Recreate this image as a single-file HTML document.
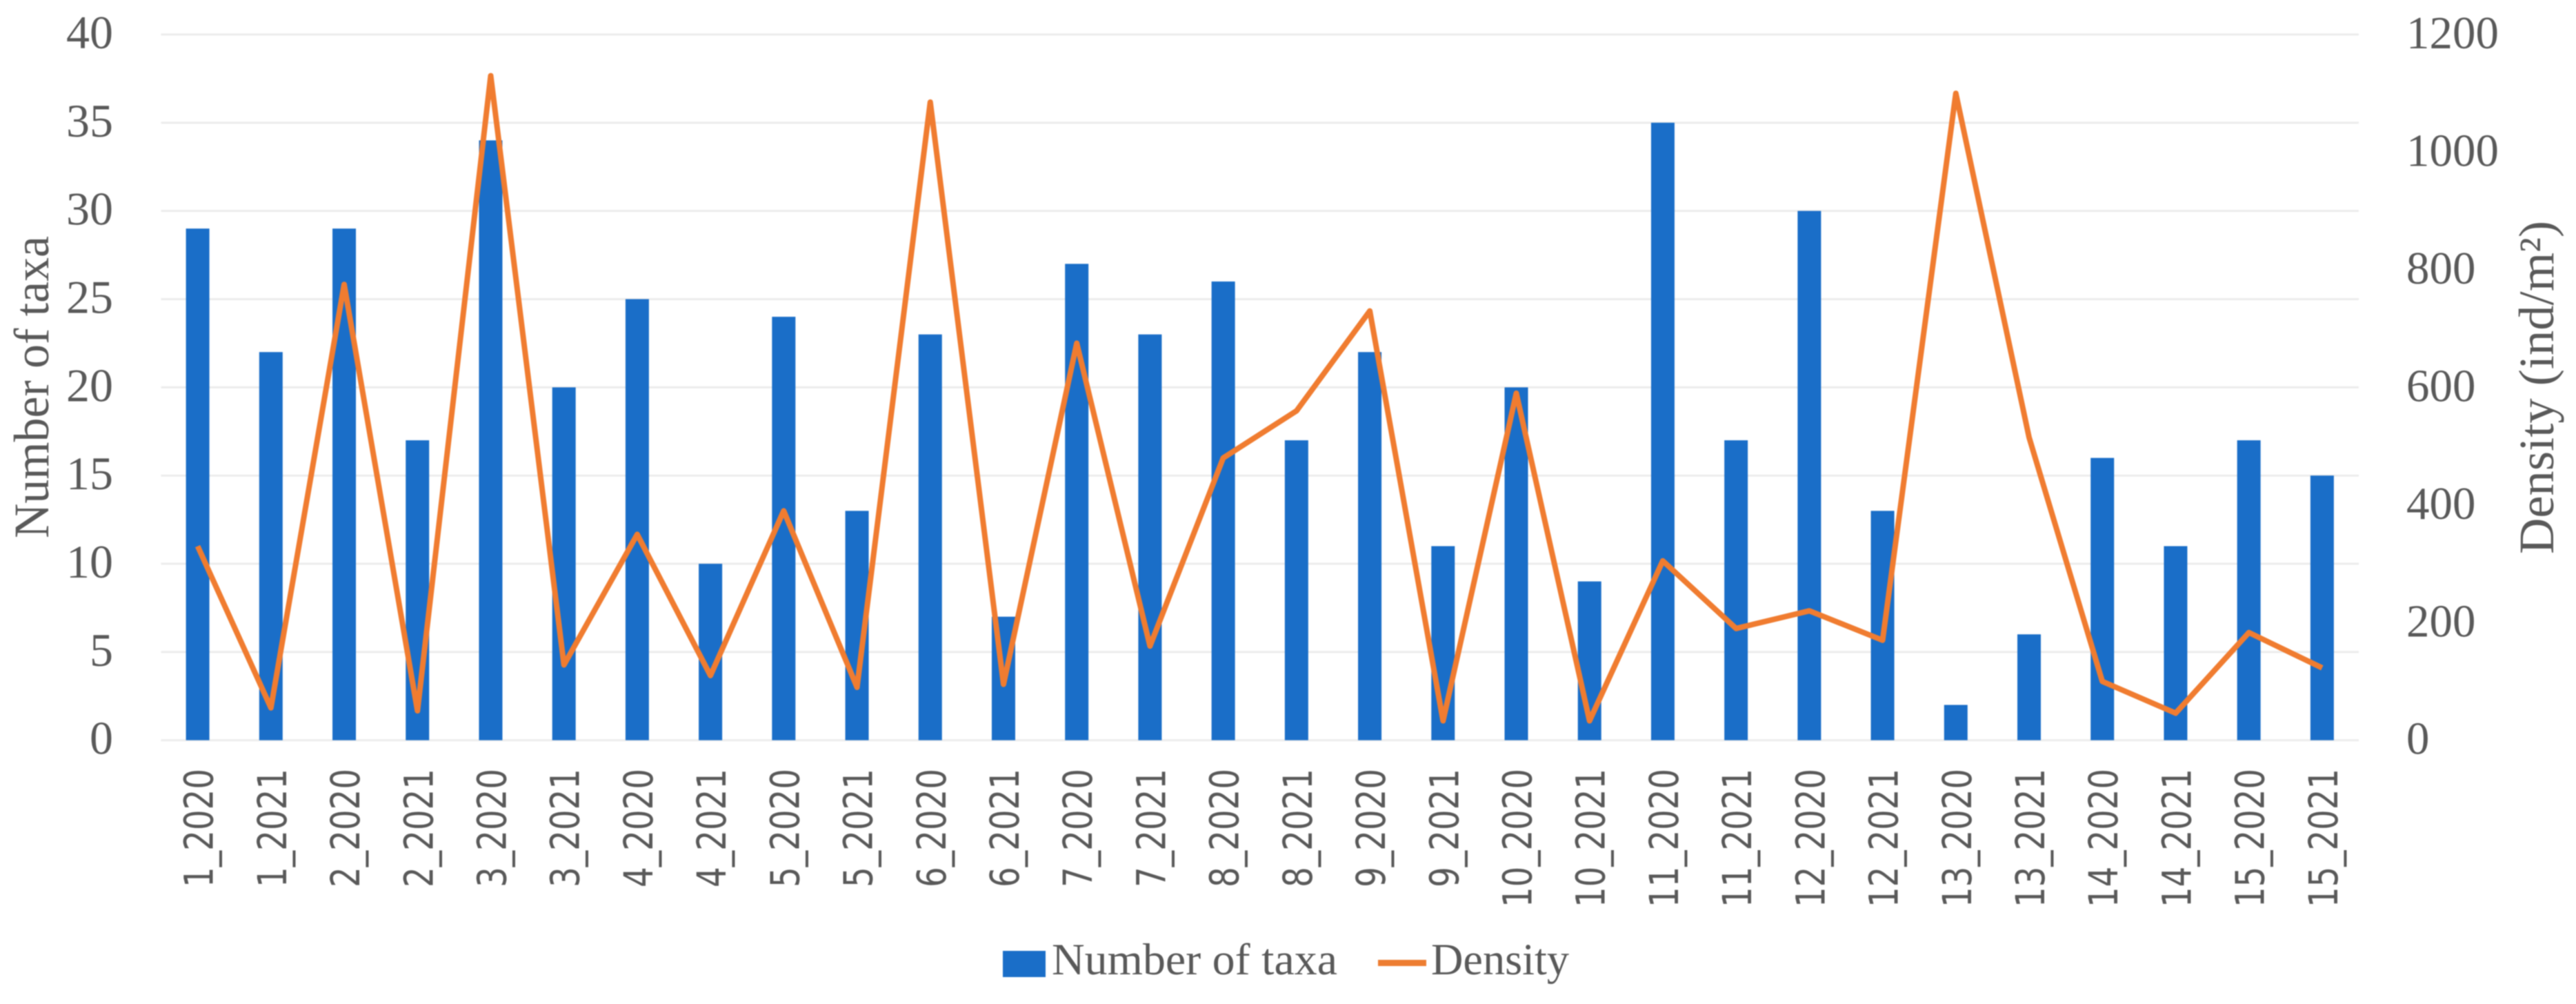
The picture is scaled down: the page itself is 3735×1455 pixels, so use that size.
<!DOCTYPE html>
<html lang="en">
<head>
<meta charset="utf-8">
<title>Number of taxa and density by site and year</title>
<style>
  html, body { margin: 0; padding: 0; background: #fff; }
  body { width: 3735px; height: 1455px; overflow: hidden; }
  svg { display: block; filter: blur(0.9px); }
  .serif { font-family: "Liberation Serif", serif; fill: #595959; }
  .sans { font-family: "DejaVu Sans", "Liberation Sans", sans-serif; fill: #595959; }
</style>
</head>
<body>
<svg id="chart" xmlns="http://www.w3.org/2000/svg" width="3735" height="1455" viewBox="0 0 3735 1455">
  <rect x="0" y="0" width="3735" height="1455" fill="#ffffff"/>
  <g id="grid"></g>
  <g id="bars"></g>
  <polyline id="density-line" fill="none" stroke="#f07c30" stroke-width="8" stroke-linejoin="round" stroke-linecap="butt"/>
  <g id="left-ticks"></g>
  <g id="right-ticks"></g>
  <g id="x-ticks"></g>
  <text class="serif" font-size="72" text-anchor="middle" textLength="438" lengthAdjust="spacingAndGlyphs" transform="translate(70,561) rotate(-90)">Number of taxa</text>
  <text class="serif" font-size="72" text-anchor="middle" textLength="483" lengthAdjust="spacingAndGlyphs" transform="translate(3702,561.5) rotate(-90)">Density (ind/m²)</text>
  <g>
    <rect x="1454" y="1378" width="62" height="38" fill="#1a6ec8"/>
    <text class="serif" x="1525" y="1412" font-size="65" textLength="414" lengthAdjust="spacingAndGlyphs">Number of taxa</text>
    <rect x="1998" y="1391" width="70" height="9" fill="#ed7d31"/>
    <text class="serif" x="2075" y="1412" font-size="65" textLength="200" lengthAdjust="spacingAndGlyphs">Density</text>
  </g>
</svg>
<script>
const categories = ["1_2020","1_2021","2_2020","2_2021","3_2020","3_2021","4_2020","4_2021","5_2020","5_2021","6_2020","6_2021","7_2020","7_2021","8_2020","8_2021","9_2020","9_2021","10_2020","10_2021","11_2020","11_2021","12_2020","12_2021","13_2020","13_2021","14_2020","14_2021","15_2020","15_2021"];
const taxaValues = [29,22,29,17,34,20,25,10,24,13,23,7,27,23,26,17,22,11,20,9,35,17,30,13,2,6,16,11,17,15];
const densityValues = [330,55,775,50,1130,128,350,110,390,90,1085,95,675,160,480,560,730,33,590,33,305,190,220,170,1100,515,100,46,183,123];
const leftTicks = [0,5,10,15,20,25,30,35,40];
const rightTicks = [0,200,400,600,800,1000,1200];

const NS = "http://www.w3.org/2000/svg";
const plotLeft = 233.5, plotRight = 3420, plotTop = 50, plotBottom = 1072.7;
const leftMax = 40, rightMax = 1200;
const xBand = (plotRight - plotLeft) / categories.length;
const barWidth = 34;

function xCenter(i) { return plotLeft + xBand * (i + 0.5); }
function yLeft(v) { return plotBottom - (v / leftMax) * (plotBottom - plotTop); }
function yRight(v) { return plotBottom - (v / rightMax) * (plotBottom - plotTop); }

const gridGroup = document.getElementById("grid");
leftTicks.forEach(function (t) {
  const line = document.createElementNS(NS, "line");
  
  
  line.setAttribute("x1", plotLeft);
  line.setAttribute("x2", plotRight);
  line.setAttribute("y1", yLeft(t));
  line.setAttribute("y2", yLeft(t));
  line.setAttribute("stroke", "#ececec");
  line.setAttribute("stroke-width", "3");
  gridGroup.appendChild(line);
});

const barsGroup = document.getElementById("bars");
taxaValues.forEach(function (v, i) {
  const bar = document.createElementNS(NS, "rect");
  
  
  bar.setAttribute("x", xCenter(i) - barWidth / 2);
  bar.setAttribute("y", yLeft(v));
  bar.setAttribute("width", barWidth);
  bar.setAttribute("height", plotBottom - yLeft(v));
  bar.setAttribute("fill", "#1a6ec8");
  barsGroup.appendChild(bar);
});

document.getElementById("density-line").setAttribute("points", densityValues.map(function (v, i) {
  return xCenter(i).toFixed(1) + "," + yRight(v).toFixed(1);
}).join(" "));

const leftGroup = document.getElementById("left-ticks");
leftTicks.forEach(function (t) {
  const label = document.createElementNS(NS, "text");
  
  
  label.setAttribute("class", "serif");
  label.setAttribute("x", 164);
  label.setAttribute("y", yLeft(t) + 20);
  label.setAttribute("font-size", "68");
  label.setAttribute("text-anchor", "end");
  label.textContent = String(t);
  leftGroup.appendChild(label);
});

const rightGroup = document.getElementById("right-ticks");
rightTicks.forEach(function (t) {
  const label = document.createElementNS(NS, "text");
  
  
  label.setAttribute("class", "serif");
  label.setAttribute("x", 3489);
  label.setAttribute("y", yRight(t) + 20);
  label.setAttribute("font-size", "67");
  label.textContent = String(t);
  rightGroup.appendChild(label);
});

const xGroup = document.getElementById("x-ticks");
categories.forEach(function (c, i) {
  const label = document.createElementNS(NS, "text");
  
  
  label.setAttribute("class", "sans");
  label.setAttribute("font-size", "58");
  label.setAttribute("text-anchor", "end");
  label.setAttribute("textLength", c.length * 29 - 2);
  label.setAttribute("lengthAdjust", "spacingAndGlyphs");
  label.setAttribute("transform", "translate(" + (xCenter(i) + 22) + ",1114) rotate(-90)");
  label.textContent = c;
  xGroup.appendChild(label);
});
</script>
</body>
</html>
